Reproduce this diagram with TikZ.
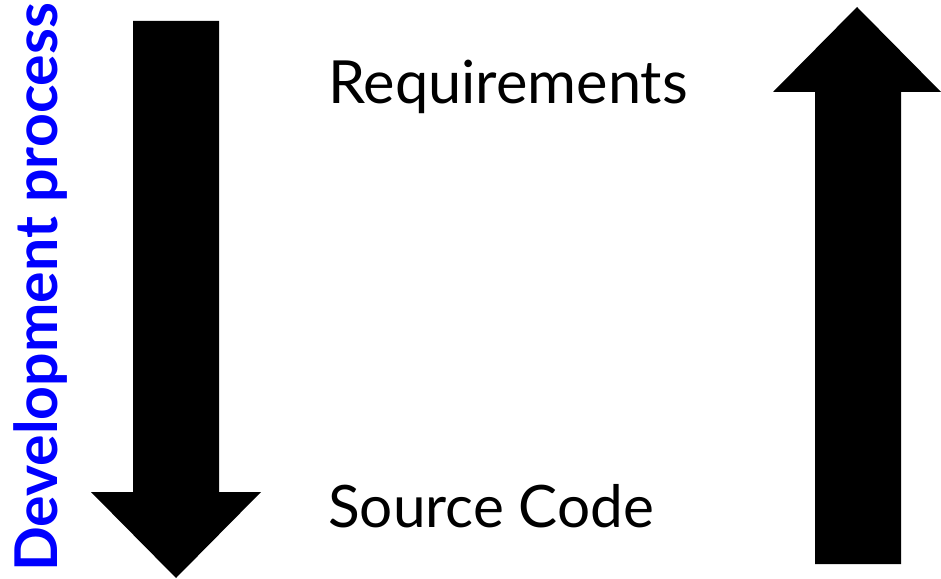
\documentclass[tikz,border=0pt]{standalone}
\usepackage{fontspec}
\setmainfont{Lato}
\begin{document}
\begin{tikzpicture}[x=1bp,y=-1bp,
  bigarrow/.style={fill=black,draw=none},
  label/.style={inner sep=0pt,font=\fontsize{58.5bp}{70bp}\selectfont},
  side/.style={inner sep=0pt,text=blue,font=\fontsize{59bp}{70bp}\selectfont\bfseries}]
\useasboundingbox (0,0) rectangle (941,579);
% downward arrow on the left
\fill[bigarrow] (133,21) -- (219,21) -- (219,492) -- (261,492) -- (176,578)
  -- (91,492) -- (133,492) -- cycle;
% upward arrow on the right
\fill[bigarrow] (815,564) -- (901,564) -- (901,92) -- (941,92) -- (857,7)
  -- (773,92) -- (815,92) -- cycle;
\node[label,anchor=base west,font=\fontsize{59.5bp}{70bp}\selectfont] (req) at (328,104) {Requirements};
\node[label,anchor=base west] (src) at (328,527) {Source Code};
\node[side,rotate=90,anchor=base west] (dev) at (57,572) {Development process};
\end{tikzpicture}
\end{document}
